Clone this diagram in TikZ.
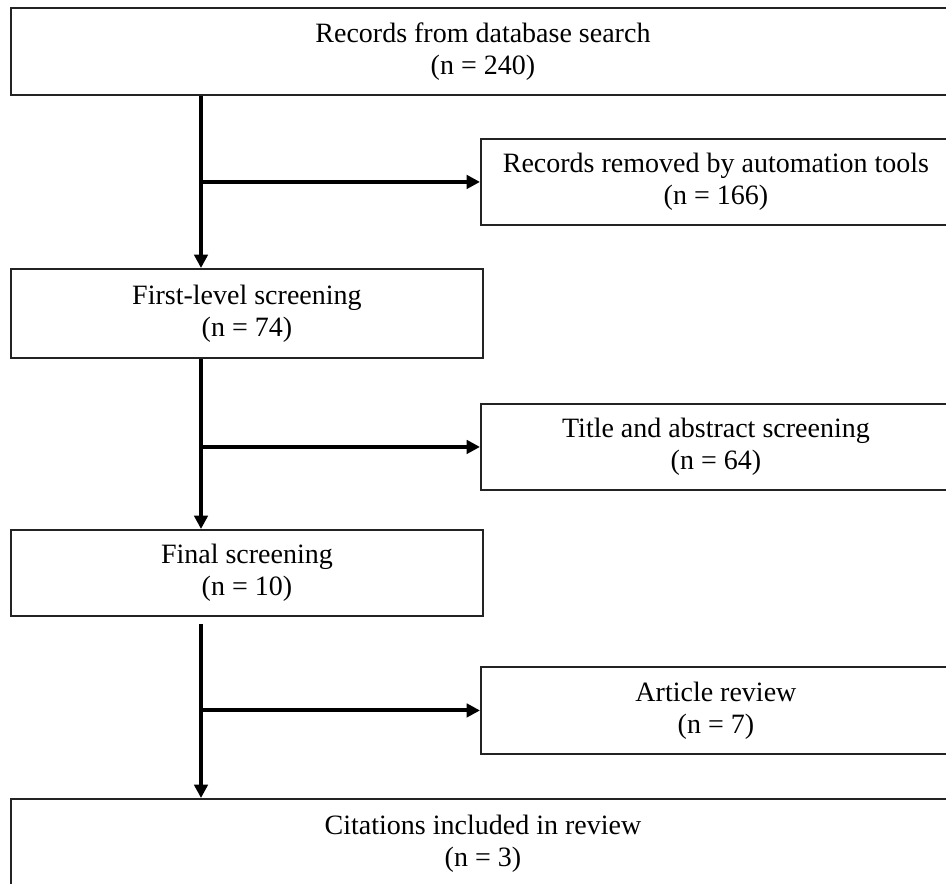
\documentclass[tikz,border=0pt]{standalone}
\usepackage{fontspec}
\setmainfont{Liberation Serif}
\usepackage{tikz}
\usetikzlibrary{arrows.meta}
\definecolor{boxline}{RGB}{35, 35, 35}

\begin{document}
\begin{tikzpicture}[x=0.75pt, y=-0.75pt,
    box/.style={draw=boxline, line width=1.4pt, rectangle, align=center, inner sep=0pt,
        anchor=north west, font=\fontsize{21}{24}\selectfont},
    flow/.style={line width=3pt, -{Triangle[length=10pt, width=10pt]}}]
\useasboundingbox (0,0) rectangle (946,883);
\clip (0,0) rectangle (946,883);

% Main column
\node[box, minimum width=708pt, minimum height=65.25pt] (search) at (10,7) {Records from database search\\(n = 240)};
\node[box, minimum width=354pt, minimum height=66.75pt] (first) at (10,268) {First-level screening\\(n = 74)};
\node[box, minimum width=354pt, minimum height=64.5pt] (final) at (10,529) {Final screening\\(n = 10)};
\node[box, minimum width=708pt, minimum height=67.5pt] (included) at (10,798) {Citations included in review\\(n = 3)};

% Side boxes
\node[box, minimum width=352.5pt, minimum height=64.5pt] (removed) at (480,138) {Records removed by automation tools\\(n = 166)};
\node[box, minimum width=352.5pt, minimum height=64.5pt] (title) at (480,403) {Title and abstract screening\\(n = 64)};
\node[box, minimum width=352.5pt, minimum height=65.25pt] (article) at (480,666) {Article review\\(n = 7)};

% Spine arrows
\coordinate (spine) at (201,0);
\coordinate (gap) at ([yshift=-5.25pt]final.south);
\draw[flow] (search.south -| spine) -- (first.north -| spine);
\draw[flow] (first.south -| spine) -- (final.north -| spine);
\draw[flow] (gap -| spine) -- (included.north -| spine);

% Branch arrows
\foreach \side in {removed, title, article} {
    \draw[flow] (\side.west -| spine) -- (\side.west);
}
\end{tikzpicture}
\end{document}
